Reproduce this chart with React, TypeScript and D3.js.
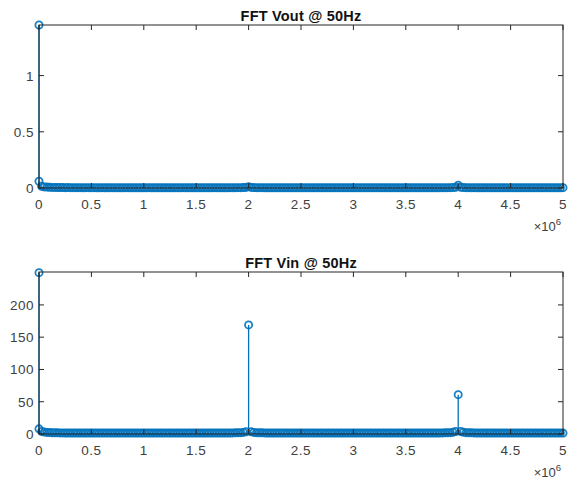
import React from "react";
import * as d3 from "d3";

// FFT bins: 25 kHz spacing from 0 to 5 MHz (201 bins), plus the 50 Hz fundamental
const binHz = 25000;
const fundamentalHz = 50;
const voutFund = 1.45;
const vinFund = 250;

const voutMag = [
  0.06, 0.015, 0.01, 0.008, 0.006, 0.005, 0.005, 0.004, 0.004, 0.004,
  0.003, 0.004, 0.003, 0.003, 0.003, 0.003, 0.003, 0.002, 0.003, 0.003,
  0.002, 0.003, 0.002, 0.002, 0.003, 0.002, 0.002, 0.002, 0.003, 0.002,
  0.002, 0.002, 0.002, 0.003, 0.002, 0.002, 0.002, 0.002, 0.002, 0.002,
  0.002, 0.002, 0.003, 0.002, 0.002, 0.002, 0.002, 0.002, 0.002, 0.002,
  0.002, 0.002, 0.002, 0.002, 0.002, 0.003, 0.002, 0.002, 0.002, 0.002,
  0.002, 0.002, 0.002, 0.002, 0.002, 0.002, 0.002, 0.003, 0.002, 0.002,
  0.002, 0.002, 0.002, 0.003, 0.002, 0.003, 0.003, 0.003, 0.004, 0.005,
  0.012, 0.005, 0.004, 0.003, 0.003, 0.003, 0.002, 0.002, 0.002, 0.002,
  0.002, 0.002, 0.002, 0.002, 0.002, 0.002, 0.002, 0.002, 0.002, 0.002,
  0.002, 0.002, 0.002, 0.002, 0.002, 0.002, 0.002, 0.002, 0.002, 0.002,
  0.002, 0.002, 0.002, 0.002, 0.002, 0.002, 0.002, 0.002, 0.002, 0.002,
  0.002, 0.002, 0.002, 0.002, 0.002, 0.002, 0.002, 0.002, 0.002, 0.002,
  0.002, 0.002, 0.002, 0.002, 0.002, 0.002, 0.002, 0.002, 0.002, 0.002,
  0.002, 0.002, 0.002, 0.002, 0.002, 0.002, 0.002, 0.002, 0.002, 0.002,
  0.002, 0.002, 0.002, 0.002, 0.003, 0.002, 0.003, 0.003, 0.004, 0.006,
  0.025, 0.006, 0.004, 0.003, 0.003, 0.002, 0.003, 0.002, 0.002, 0.002,
  0.002, 0.002, 0.002, 0.002, 0.002, 0.002, 0.002, 0.002, 0.002, 0.002,
  0.002, 0.002, 0.002, 0.002, 0.002, 0.002, 0.002, 0.002, 0.002, 0.002,
  0.002, 0.002, 0.002, 0.002, 0.002, 0.002, 0.002, 0.002, 0.002, 0.002,
  0.003,
];

const vinMag = [
  8, 4, 3, 2.5, 2.2, 2, 1.9, 1.8, 1.7, 1.7,
  1.6, 1.6, 1.6, 1.5, 1.5, 1.5, 1.5, 1.5, 1.5, 1.5,
  1.5, 1.5, 1.4, 1.4, 1.4, 1.4, 1.4, 1.4, 1.4, 1.4,
  1.4, 1.4, 1.4, 1.4, 1.4, 1.4, 1.4, 1.4, 1.4, 1.4,
  1.4, 1.4, 1.4, 1.4, 1.4, 1.4, 1.4, 1.4, 1.4, 1.4,
  1.4, 1.4, 1.4, 1.4, 1.4, 1.4, 1.4, 1.4, 1.4, 1.4,
  1.4, 1.4, 1.4, 1.4, 1.4, 1.4, 1.5, 1.5, 1.5, 1.5,
  1.5, 1.5, 1.6, 1.6, 1.7, 1.8, 1.9, 2.1, 2.5, 3.5,
  169, 3.5, 2.5, 2.1, 1.9, 1.8, 1.7, 1.6, 1.6, 1.5,
  1.5, 1.5, 1.5, 1.5, 1.4, 1.4, 1.4, 1.4, 1.4, 1.4,
  1.4, 1.4, 1.4, 1.4, 1.4, 1.4, 1.4, 1.4, 1.4, 1.4,
  1.4, 1.4, 1.4, 1.4, 1.4, 1.4, 1.4, 1.4, 1.4, 1.4,
  1.4, 1.4, 1.4, 1.4, 1.4, 1.4, 1.4, 1.4, 1.4, 1.4,
  1.4, 1.4, 1.4, 1.4, 1.4, 1.4, 1.4, 1.4, 1.4, 1.4,
  1.4, 1.4, 1.4, 1.4, 1.4, 1.4, 1.5, 1.5, 1.5, 1.5,
  1.5, 1.5, 1.6, 1.6, 1.7, 1.8, 1.9, 2.1, 2.6, 3.8,
  61, 3.8, 2.6, 2.1, 1.9, 1.8, 1.7, 1.6, 1.6, 1.5,
  1.5, 1.5, 1.5, 1.5, 1.4, 1.4, 1.4, 1.4, 1.4, 1.4,
  1.4, 1.4, 1.4, 1.4, 1.4, 1.4, 1.4, 1.4, 1.4, 1.4,
  1.4, 1.4, 1.4, 1.4, 1.4, 1.4, 1.4, 1.4, 1.4, 1.4,
  1.4,
];

const xTicks = [0, 0.5, 1, 1.5, 2, 2.5, 3, 3.5, 4, 4.5, 5];
const voutTicks = [0, 0.5, 1];
const vinTicks = [0, 50, 100, 150, 200];

const W = 571;
const H = 485;
const left = 39;
const right = 563;
const blue = "#0072BD";
const ink = "#262626";
const label = "#404040";
const font = "'Liberation Sans', Arial, sans-serif";

type Pt = { f: number; v: number };

function toPoints(mag: number[], fund: number): Pt[] {
  const pts = mag.map((v, i) => ({ f: i * binHz, v }));
  pts.splice(1, 0, { f: fundamentalHz, v: fund });
  return pts;
}

function StemPanel({
  title,
  top,
  bottom,
  yMax,
  yTicks,
  points,
}: {
  title: string;
  top: number;
  bottom: number;
  yMax: number;
  yTicks: number[];
  points: Pt[];
}) {
  const x = d3.scaleLinear().domain([0, 5e6]).range([left, right]);
  const y = d3.scaleLinear().domain([0, yMax]).range([bottom, top]);
  const tl = 5;
  return (
    <g>
      <text x={(left + right) / 2} y={top - 4} textAnchor="middle" fontFamily={font} fontWeight="bold" fontSize={14.5} letterSpacing={0.2} fill="#111">
        {title}
      </text>
      {points.map((p, i) => (
        <line key={"s" + i} x1={x(p.f)} x2={x(p.f)} y1={y(0)} y2={y(p.v)} stroke={blue} strokeWidth={1.3} />
      ))}
      {points.map((p, i) => (
        <circle key={"c" + i} cx={x(p.f)} cy={y(p.v)} r={3.6} fill="none" stroke={blue} strokeWidth={1.8} strokeOpacity={0.9} />
      ))}
      <rect x={left} y={top} width={right - left} height={bottom - top} fill="none" stroke={ink} strokeWidth={1} />
      {xTicks.map((t) => (
        <g key={"x" + t}>
          <line x1={x(t * 1e6)} x2={x(t * 1e6)} y1={bottom} y2={bottom - tl} stroke={ink} />
          <line x1={x(t * 1e6)} x2={x(t * 1e6)} y1={top} y2={top + tl} stroke={ink} />
          <text x={x(t * 1e6)} y={bottom + 21} textAnchor="middle" fontFamily={font} fontSize={13.5} letterSpacing={0.5} fill={label}>
            {t}
          </text>
        </g>
      ))}
      {yTicks.map((t) => (
        <g key={"y" + t}>
          <line x1={left} x2={left + tl} y1={y(t)} y2={y(t)} stroke={ink} />
          <line x1={right} x2={right - tl} y1={y(t)} y2={y(t)} stroke={ink} />
          <text x={left - 5} y={y(t) + 5} textAnchor="end" fontFamily={font} fontSize={13.5} letterSpacing={0.5} fill={label}>
            {t}
          </text>
        </g>
      ))}
      <text x={right - 2} y={bottom + 43} textAnchor="end" fontFamily={font} fontSize={13} fill={label}>
        ×10
        <tspan fontSize={9.5} dy={-6}>6</tspan>
      </text>
    </g>
  );
}

export default function App() {
  return (
    <svg width={W} height={H} style={{ position: "absolute", left: 0, top: 0, background: "#fff" }}>
      <StemPanel title="FFT Vout @ 50Hz" top={25} bottom={188} yMax={1.45} yTicks={voutTicks} points={toPoints(voutMag, voutFund)} />
      <StemPanel title="FFT Vin @ 50Hz" top={272} bottom={434} yMax={251} yTicks={vinTicks} points={toPoints(vinMag, vinFund)} />
    </svg>
  );
}
